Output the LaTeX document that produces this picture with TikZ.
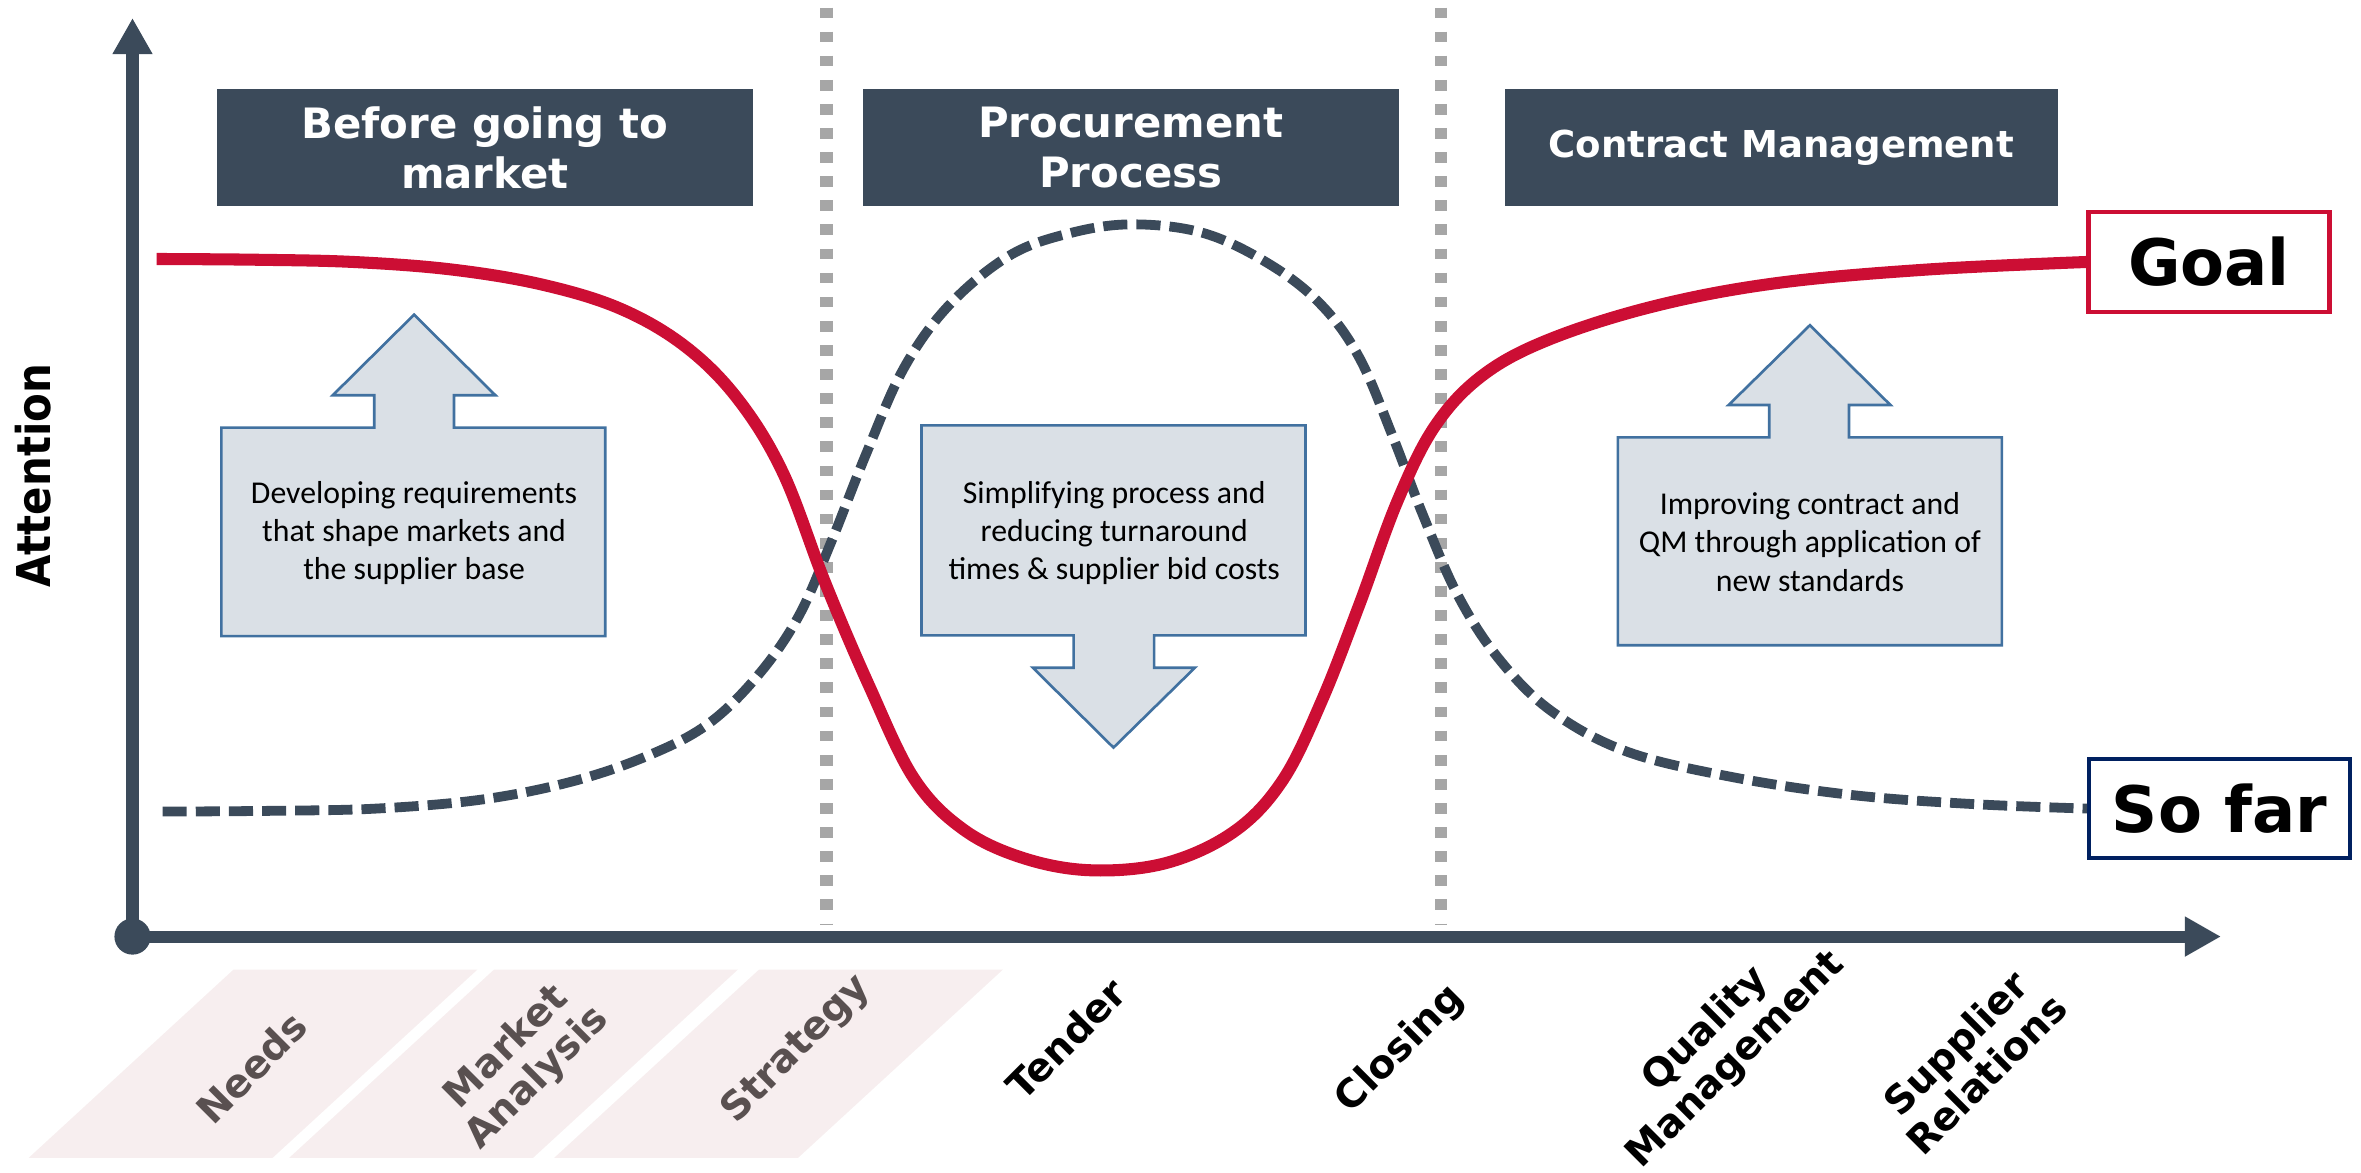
\documentclass[tikz,border=0pt]{standalone}
\usepackage{fontspec}
\setmainfont{Carlito}
\newfontfamily\headfont{DejaVu Sans}
\newfontfamily\narrowfont{DejaVu Sans Condensed}
\usetikzlibrary{arrows.meta, positioning}
\definecolor{slate}{RGB}{59,74,90}
\definecolor{goalred}{RGB}{204,14,52}
\definecolor{navy}{RGB}{0,32,96}
\definecolor{calloutfill}{RGB}{218,224,230}
\definecolor{calloutline}{RGB}{65,113,160}
\definecolor{phasegray}{RGB}{166,166,166}
\definecolor{stepfill}{RGB}{247,238,239}
\definecolor{steptext}{RGB}{89,80,80}
\tikzset{>={Triangle[length=0.24cm,width=0.25cm]}}
\tikzset{
  header/.style={fill=slate, text=white, align=center, inner sep=0pt,
    minimum height=0.78cm, font=\headfont\bfseries\fontsize{7.9}{9.4}\selectfont},
  callout/.style={fill=calloutfill, draw=calloutline, line width=0.5pt},
  callouttext/.style={align=center, font=\fontsize{6}{7.2}\selectfont},
  legendbox/.style={draw, fill=white, line width=0.8pt, inner sep=0pt, minimum height=0.66cm,
    font=\headfont\bfseries\fontsize{12.1}{14}\selectfont},
  steplabel/.style={rotate=45, align=center, inner sep=0.5pt, font=\headfont\bfseries\fontsize{7.4}{8.2}\selectfont},
  phaseline/.style={phasegray, line width=0.083cm, dash pattern=on 0.071cm off 0.089cm},
  axis/.style={slate, line width=0.08cm, ->},
  goalcurve/.style={goalred, line width=0.08cm},
  sofarcurve/.style={slate, line width=0.065cm, dash pattern=on 0.16cm off 0.06cm}
}
\begin{document}
\begin{tikzpicture}[x=0.01cm, y=-0.01cm]
		\useasboundingbox (0,0) rectangle (1568,779);
		
		% steps before going to market
		\foreach \t in {155,328,504}
			\fill[stepfill] (\t,644) -- ++(162,0) -- ++(-136,125) -- ++(-162,0) -- cycle;
		
		% phase separators
		\draw[phaseline] (549,5) -- (549,614);
		\draw[phaseline] (957,5) -- (957,614);
		
		% axes
		\coordinate (origin) at (88,622);
		\coordinate (ytip) at (88,12);
		\coordinate (xtip) at (1475,622);
		\draw[axis] (origin) -- (ytip);
		\draw[axis] (origin) -- (xtip);
		\fill[slate] (origin) circle (0.12cm);
		\node[rotate=90, font=\narrowfont\bfseries\fontsize{8.8}{10}\selectfont] (attn) at (22,316) {Attention};
		
		% legend
		\node[legendbox, draw=goalred, minimum width=1.6cm] (goal) at (1467,174) {Goal};
		\node[legendbox, draw=navy, minimum width=1.73cm] (sofar) at (1474,537) {So far};
		
		% curves
		\draw[sofarcurve] plot[smooth, tension=0.6] coordinates {(108,539) (180,538.5) (250,537) (320,531)
			(380,519) (430,502) (470,481) (503,449) (530,410) (552,360) (575,302) (600,245) (630,203)
			(670,170) (710,155) (752,149) (800,155) (844,176) (878,203) (903,238) (925,290) (945,342)
			(968,395) (995,437) (1030,472) (1080,499) (1150,516) (1230,528) (1310,534) (sofar.west)};
		\draw[goalcurve] plot[smooth, tension=0.6] coordinates {(104,172) (170,172.5) (235,174) (300,179)
			(360,189) (412,205) (455,230) (490,265) (520,314) (548,387) (577,455) (607,517) (640,551)
			(680,570) (725,578) (775,573) (820,552) (852,518) (878,465) (903,401) (928,333) (953,283)
			(985,249) (1030,225) (1100,203) (1180,188) (1280,179) (goal.west)};
		
		% phase headers
		\node[header, minimum width=3.56cm] (market) at (322,98) {Before going to\\market};
		\node[header, minimum width=3.56cm] (procure) at (751,98) {Procurement\\Process};
		\node[header, minimum width=3.67cm, font=\headfont\bfseries\fontsize{7}{9}\selectfont] (contract) at (1183,98) {Contract Management};
		
		% callouts
		\draw[callout] (147,284) -- (248.5,284) -- (248.5,262.5) -- (221,262.5) -- (275,209)
			-- (329,262.5) -- (301.5,262.5) -- (301.5,284) -- (402,284) -- (402,422.5) -- (147,422.5) -- cycle;
		\node[callouttext] (require) at (275,354) {Developing requirements\\that shape markets and\\the supplier base};
		
		\draw[callout] (612,282.5) -- (867,282.5) -- (867,422) -- (766.5,422) -- (766.5,443.5) -- (793.5,443.5)
			-- (739.5,496.5) -- (686,443.5) -- (713,443.5) -- (713,422) -- (612,422) -- cycle;
		\node[callouttext] (simplify) at (740,354) {Simplifying process and\\reducing turnaround\\times \& supplier bid costs};
		
		\draw[callout] (1074.5,290.5) -- (1175,290.5) -- (1175,269) -- (1148,269) -- (1202,216)
			-- (1255.5,269) -- (1228,269) -- (1228,290.5) -- (1329.5,290.5) -- (1329.5,428.5) -- (1074.5,428.5) -- cycle;
		\node[callouttext] (improve) at (1202,360) {Improving contract and\\QM through application of\\new standards};
		
		% steps
		\node[steplabel, text=steptext] (needs) at (167,709) {Needs};
		\node[steplabel, text=steptext] (analysis) at (347,706) {Market\\Analysis};
		\node[steplabel, text=steptext] (strategy) at (529,697) {Strategy};
		\node[steplabel] (tender) at (708,690) {Tender};
		\node[steplabel] (closing) at (930,697) {Closing};
		\node[steplabel] (quality) at (1143,694) {Quality\\Management};
		\node[steplabel] (relations) at (1309,703) {Supplier\\Relations};
\end{tikzpicture}
\end{document}
